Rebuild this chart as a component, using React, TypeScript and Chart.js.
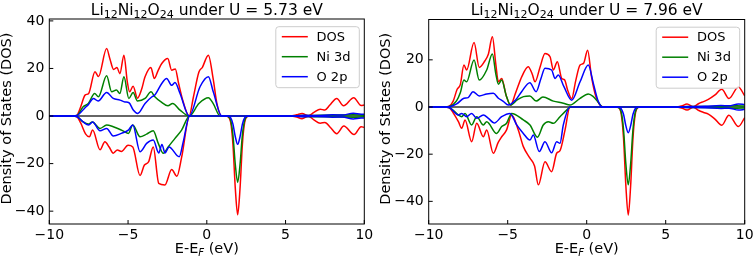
import React, { useEffect, useRef } from 'react';
import { Chart, registerables } from 'chart.js';

Chart.register(...registerables);

type Pt = [number, number];

// ---------------- data ----------------
const X_TICKS = [-10, -5, 0, 5, 10];
const Y_TICKS_LEFT = [-40, -20, 0, 20, 40];
const Y_TICKS_RIGHT = [-40, -20, 0, 20];
const LEGEND_LABELS = ['DOS', 'Ni 3d', 'O 2p'];
const SERIES_COLORS = ['#ff0000', '#008000', '#0000ff'];
const FORMULA: [string, string][] = [['Li', '12'], ['Ni', '12'], ['O', '24']];
const U_VALUES = ['5.73', '7.96'];
const X_LABEL_PARTS = ['E-E', 'F', ' (eV)'];
const Y_LABEL = 'Density of States (DOS)';

// Left panel: U = 5.73 eV
const L_DOS_UP: Pt[] = [[-10, 0], [-8.5, 0], [-8.25, 0.3], [-8.0, 4], [-7.73, 8.8], [-7.5, 9.5], [-7.1, 18.6], [-6.88, 16.6], [-6.36, 28.4], [-6.15, 24], [-5.92, 19.6], [-5.7, 20.4], [-5.52, 17.8], [-5.26, 25.6], [-5.05, 14.5], [-4.9, 10.2], [-4.68, 12.5], [-4.4, 7.5], [-4.15, 11], [-3.92, 16.5], [-3.55, 20.4], [-3.33, 15.8], [-3.1, 19], [-2.86, 22.1], [-2.48, 24.2], [-2.23, 19.3], [-2.0, 19.8], [-1.8, 14], [-1.5, 6], [-1.12, 0], [-0.85, 8], [-0.5, 18.5], [-0.28, 20.5], [0.1, 25.6], [0.4, 15.8], [0.65, 5], [0.95, 0], [5.3, 0], [5.7, 0.5], [6.05, 1.1], [6.45, 0.1], [6.8, 1.5], [7.2, 2.9], [7.5, 2.5], [7.8, 4.5], [8.25, 7.4], [8.68, 4.3], [9.33, 7.7], [9.8, 4.4], [10, 4.6]];
const L_NI_UP: Pt[] = [[-10, 0], [-8.5, 0], [-8.25, 0.2], [-7.85, 3.9], [-7.52, 5.3], [-7.12, 9.5], [-6.88, 8.1], [-6.36, 16.9], [-6.04, 10.2], [-5.74, 10.9], [-5.52, 9.5], [-5.26, 16.5], [-4.95, 7.4], [-4.68, 9.9], [-4.4, 6.3], [-3.92, 7.4], [-3.54, 10.2], [-3.3, 8.1], [-2.86, 5.7], [-2.47, 4.3], [-2.17, 5.3], [-1.7, 2.5], [-1.12, 0], [-0.5, 5.3], [0.1, 7.7], [0.4, 5.3], [0.85, 0], [5.3, 0], [6.0, 0.2], [7.2, 0.3], [8.3, 0.4], [9.3, 0.5], [10, 0.3]];
const L_O_UP: Pt[] = [[-10, 0], [-8.5, 0], [-8.25, 0.2], [-7.73, 3.5], [-7.5, 5], [-7.2, 7.4], [-6.9, 6.3], [-6.36, 9.9], [-5.94, 7.4], [-5.51, 6.7], [-5.2, 5.9], [-4.94, 5.6], [-4.67, 2.5], [-4.39, 1.1], [-3.92, 5.3], [-3.5, 8], [-3.3, 8.8], [-2.86, 13.7], [-2.55, 15.8], [-2.23, 12.9], [-2.02, 14.1], [-1.7, 9.5], [-1.12, 0], [-0.43, 12.3], [0.1, 16.5], [0.41, 10.2], [0.95, 0], [5.5, 0], [6.2, 0.3], [7.0, 0.2], [8.0, 0.5], [8.6, 0.4], [9.3, 1.2], [9.8, 0.8], [10, 0.8]];
const L_DOS_DN: Pt[] = [[-10, 0], [-8.5, 0], [-8.25, -0.3], [-8.0, -3], [-7.7, -7.5], [-7.46, -8.7], [-7.25, -5.9], [-6.78, -14.2], [-6.47, -10.8], [-6.2, -13], [-5.94, -15.6], [-5.68, -14.3], [-5.42, -14.9], [-5.0, -12.3], [-4.7, -13], [-4.24, -25], [-3.96, -20.6], [-3.7, -19.3], [-3.4, -13], [-3.05, -28.3], [-2.66, -29], [-2.23, -22.5], [-1.9, -25.3], [-1.6, -17.4], [-1.09, 0], [1.25, 0], [1.31, -0.12], [1.51, -2.5], [1.66, -11.9], [1.81, -30.4], [1.96, -41.5], [2.11, -30.4], [2.26, -11.9], [2.41, -2.5], [2.61, -0.12], [2.7, 0], [5.3, 0], [5.7, -0.4], [6.05, -1.1], [6.45, -0.1], [6.8, -1.6], [7.2, -3], [7.5, -2.7], [7.85, -4.8], [8.25, -7.4], [8.7, -4.2], [9.35, -7.8], [9.8, -4.5], [10, -4.8]];
const L_NI_DN: Pt[] = [[-10, 0], [-8.5, 0], [-8.25, -0.2], [-7.85, -2.5], [-7.52, -3.4], [-7.27, -2.5], [-6.78, -5.2], [-6.36, -3.8], [-5.94, -4.5], [-5.42, -5.9], [-4.98, -7.3], [-4.7, -3.8], [-4.24, -8.7], [-3.82, -7.6], [-3.4, -6.2], [-3.08, -11.5], [-2.76, -15.7], [-2.44, -12.9], [-2.02, -9.4], [-1.6, -5.9], [-1.09, 0], [1.25, 0], [1.31, -0.08], [1.51, -1.7], [1.66, -8.0], [1.81, -20.4], [1.96, -27.9], [2.11, -20.4], [2.26, -8.0], [2.41, -1.7], [2.61, -0.08], [2.7, 0], [5.5, 0], [6.2, -0.2], [7.2, -0.3], [8.3, -0.4], [9.3, -0.5], [10, -0.3]];
const L_O_DN: Pt[] = [[-10, 0], [-8.5, 0], [-8.25, -0.2], [-7.85, -2.5], [-7.5, -3.8], [-7.25, -2.5], [-6.78, -6.2], [-6.36, -5.2], [-5.94, -8.4], [-5.42, -7.3], [-4.98, -5.9], [-4.7, -3.8], [-4.24, -15], [-3.82, -11.5], [-3.4, -10.1], [-3.05, -15.5], [-2.85, -12], [-2.65, -15.5], [-2.4, -13], [-1.75, -17.1], [-1.5, -11], [-1.09, 0], [1.3, 0], [1.36, -0.05], [1.51, -0.7], [1.66, -3.4], [1.81, -8.7], [1.96, -11.9], [2.11, -8.7], [2.26, -3.4], [2.41, -0.7], [2.61, -0.05], [2.7, 0], [5.5, 0], [6.2, -0.3], [7.0, -0.2], [8.0, -0.5], [8.6, -0.4], [9.3, -1.2], [9.8, -0.8], [10, -0.8]];

// Right panel: U = 7.96 eV
const R_DOS_UP: Pt[] = [[-10, 0], [-9.0, 0], [-8.7, 0.3], [-8.45, 2.5], [-8.2, 7.5], [-8.0, 9.5], [-7.77, 17.8], [-7.6, 15.7], [-7.13, 27.3], [-6.8, 16.8], [-6.45, 19.5], [-6.22, 22.5], [-5.97, 29.8], [-5.75, 18], [-5.59, 10.7], [-5.38, 12.1], [-5.1, 5], [-4.82, 0.8], [-4.5, 6], [-4.1, 13], [-3.7, 17.1], [-3.45, 14], [-3.27, 10.7], [-2.95, 17], [-2.64, 22.7], [-2.32, 21.3], [-2.11, 15.7], [-1.86, 19.2], [-1.58, 12.1], [-1.4, 11.5], [-1.2, 7], [-0.95, 3.5], [-0.7, 11], [-0.42, 17.8], [-0.2, 18.5], [0.06, 24.1], [0.3, 13], [0.6, 4], [1.05, 0], [5.6, 0], [6.0, 0.4], [6.35, 1.3], [6.75, 0.1], [7.1, 1.5], [7.4, 2.3], [7.7, 3.2], [8.1, 5], [8.55, 7.5], [9.0, 3.6], [9.6, 8.5], [10, 4.7]];
const R_NI_UP: Pt[] = [[-10, 0], [-9.0, 0], [-8.7, 0.2], [-8.23, 2.7], [-8.0, 6], [-7.77, 11.4], [-7.6, 10.7], [-7.13, 19.9], [-6.8, 11.4], [-6.33, 15.7], [-5.97, 22.5], [-5.75, 14], [-5.59, 9.7], [-5.38, 11.4], [-5.1, 5], [-4.82, 0.8], [-4.4, 3], [-4.0, 4.4], [-3.6, 4.7], [-3.2, 2.5], [-2.77, 4.2], [-2.11, 2.5], [-1.48, 1.6], [-1.06, 0.8], [-0.42, 3.7], [0.1, 5.5], [0.4, 4.5], [0.73, 2], [1.0, 0], [5.6, 0], [6.5, 0.2], [7.5, 0.2], [8.5, 0.3], [9.5, 0.5], [10, 0.4]];
const R_O_UP: Pt[] = [[-10, 0], [-9.0, 0], [-8.7, 0.1], [-8.23, 1.3], [-7.77, 3.7], [-7.5, 4], [-7.2, 6.5], [-6.8, 4.7], [-6.33, 5.5], [-5.91, 5.8], [-5.59, 3.7], [-5.3, 2.5], [-4.96, 0.8], [-4.5, 3], [-4.12, 6.5], [-3.6, 10.3], [-3.2, 6.5], [-2.9, 12], [-2.64, 16.4], [-2.22, 15.7], [-2.0, 12.1], [-1.8, 13.6], [-1.44, 8.6], [-0.95, 2.9], [-0.42, 10.7], [0.1, 17.8], [0.42, 10], [0.7, 3], [1.0, 0], [5.6, 0], [6.5, 0.2], [7.5, 0.3], [8.5, 0.6], [9.0, 0.5], [9.6, 1.3], [10, 1.0]];
const R_DOS_DN: Pt[] = [[-10, 0], [-9.0, 0], [-8.7, -0.3], [-8.4, -3], [-8.12, -6.2], [-7.91, -9], [-7.7, -5.5], [-7.28, -14.7], [-6.96, -6.9], [-6.54, -12.6], [-6.33, -9.7], [-5.91, -19.6], [-5.6, -15], [-5.38, -12.6], [-5.07, -9.7], [-4.75, -3.4], [-4.33, -9.7], [-4.01, -16.8], [-3.59, -21.7], [-3.3, -25], [-3.06, -33], [-2.64, -23.2], [-2.22, -27.4], [-1.9, -19.6], [-1.69, -18.5], [-1.37, -9.7], [-1.06, 0], [1.9, 0], [1.98, -0.13], [2.18, -2.8], [2.33, -13.1], [2.48, -33.5], [2.63, -45.8], [2.78, -33.5], [2.93, -13.1], [3.08, -2.8], [3.28, -0.13], [3.4, 0], [5.6, 0], [6.0, -0.4], [6.35, -1.3], [6.75, -0.1], [7.1, -1.5], [7.4, -2.3], [7.7, -3], [8.1, -5], [8.55, -7.7], [9.0, -3.5], [9.6, -8.3], [10, -4.5]];
const R_NI_DN: Pt[] = [[-10, 0], [-9.0, 0], [-8.7, -0.2], [-8.12, -3.4], [-7.91, -4.1], [-7.7, -2.7], [-7.28, -7.6], [-6.96, -4.1], [-6.54, -7.6], [-6.33, -6.2], [-5.7, -11.2], [-5.38, -8.3], [-5.07, -6.9], [-4.75, -2.7], [-4.01, -5.5], [-3.59, -7.6], [-3.12, -12.8], [-2.75, -7.6], [-2.43, -6.2], [-2.11, -6.9], [-1.69, -4.1], [-1.27, -1.3], [-1.0, 0], [1.9, 0], [1.98, -0.1], [2.18, -2.0], [2.33, -9.5], [2.48, -24.2], [2.63, -33], [2.78, -24.2], [2.93, -9.5], [3.08, -2.0], [3.28, -0.1], [3.4, 0], [5.6, 0], [6.5, -0.2], [7.5, -0.2], [8.5, -0.3], [9.5, -0.5], [10, -0.4]];
const R_O_DN: Pt[] = [[-10, 0], [-9.0, 0], [-8.7, -0.2], [-8.12, -3.4], [-7.91, -2.7], [-7.6, -4.1], [-7.28, -2.7], [-6.96, -4.8], [-6.54, -3.4], [-6.22, -4.8], [-5.85, -6.8], [-5.38, -4.1], [-4.85, -2.7], [-4.43, -7.6], [-4.01, -11.2], [-3.59, -14], [-3.38, -11.9], [-3.0, -18.9], [-2.64, -14.7], [-2.22, -19.4], [-1.9, -14.7], [-1.69, -15.4], [-1.48, -7.6], [-1.06, 0], [1.95, 0], [2.03, -0.05], [2.18, -0.66], [2.33, -3.1], [2.48, -8.0], [2.63, -10.9], [2.78, -8.0], [2.93, -3.1], [3.08, -0.66], [3.28, -0.05], [3.4, 0], [5.6, 0], [6.5, -0.2], [7.5, -0.3], [8.5, -0.6], [9.0, -0.5], [9.6, -1.3], [10, -1.0]];

// ---------------- layout ----------------
const W = 377;
const H = 258;
const FONT = "'DejaVu Sans', sans-serif";

interface PanelCfg {
  idx: number;
  canvasLeft: number;
  areaLeft: number;
  areaRight: number;
  areaTop: number;
  areaBottom: number;
  yMin: number;
  yMax: number;
  yTicks: number[];
  u: string;
  up: Pt[][];
  dn: Pt[][];
}

const PANELS: PanelCfg[] = [
  { idx: 0, canvasLeft: 0, areaLeft: 49.3, areaRight: 364.3, areaTop: 19, areaBottom: 224, yMin: -45.4, yMax: 40.8, yTicks: Y_TICKS_LEFT, u: U_VALUES[0], up: [L_DOS_UP, L_NI_UP, L_O_UP], dn: [L_DOS_DN, L_NI_DN, L_O_DN] },
  { idx: 1, canvasLeft: 377, areaLeft: 51.7, areaRight: 367.7, areaTop: 19.5, areaBottom: 224, yMin: -49.6, yMax: 37.1, yTicks: Y_TICKS_RIGHT, u: U_VALUES[1], up: [R_DOS_UP, R_NI_UP, R_O_UP], dn: [R_DOS_DN, R_NI_DN, R_O_DN] },
];

const fmt = (v: number) => (v < 0 ? '\u2212' + Math.abs(v) : String(v));

function makePlugin(p: PanelCfg) {
  return {
    id: 'decor' + p.idx,
    beforeDatasetsDraw(chart: any) {
      const { ctx, chartArea: a, scales } = chart;
      const y0 = scales.y.getPixelForValue(0);
      ctx.save();
      ctx.beginPath();
      ctx.rect(a.left, a.top, a.right - a.left, a.bottom - a.top);
      ctx.clip();
      ctx.strokeStyle = '#333333';
      ctx.lineWidth = 1.4;
      ctx.beginPath();
      ctx.moveTo(scales.x.getPixelForValue(-10), y0);
      ctx.lineTo(scales.x.getPixelForValue(10), y0);
      ctx.stroke();
      ctx.restore();
    },
    afterDraw(chart: any) {
      const { ctx, chartArea: a, scales } = chart;
      ctx.save();
      // frame
      ctx.strokeStyle = '#000';
      ctx.lineWidth = 1;
      ctx.strokeRect(a.left, a.top, a.right - a.left, a.bottom - a.top);
      // inward ticks
      ctx.beginPath();
      for (const v of X_TICKS) {
        const px = scales.x.getPixelForValue(v);
        ctx.moveTo(px, a.bottom);
        ctx.lineTo(px, a.bottom - 4);
      }
      for (const v of p.yTicks) {
        const py = scales.y.getPixelForValue(v);
        ctx.moveTo(a.left, py);
        ctx.lineTo(a.left + 4, py);
      }
      ctx.stroke();

      // legend
      const bw = 83.5;
      const bh = 61;
      const bx = a.right - 5 - bw;
      const by = a.top + 7.7;
      ctx.beginPath();
      (ctx as any).roundRect(bx, by, bw, bh, 3);
      ctx.fillStyle = 'rgba(255,255,255,0.8)';
      ctx.fill();
      ctx.strokeStyle = '#cccccc';
      ctx.lineWidth = 1;
      ctx.stroke();
      ctx.font = `13px ${FONT}`;
      ctx.textBaseline = 'middle';
      ctx.textAlign = 'left';
      LEGEND_LABELS.forEach((lab, i) => {
        const yy = by + 10 + i * 20;
        ctx.strokeStyle = SERIES_COLORS[i];
        ctx.lineWidth = 1.5;
        ctx.beginPath();
        ctx.moveTo(bx + 6, yy);
        ctx.lineTo(bx + 32, yy);
        ctx.stroke();
        ctx.fillStyle = '#000';
        ctx.fillText(lab, bx + 40.7, yy + 0.5);
      });

      // title with subscripts
      const big = 15.5;
      const small = 11;
      const pieces: { t: string; sub: boolean }[] = [];
      FORMULA.forEach(([el, n]) => {
        pieces.push({ t: el, sub: false });
        pieces.push({ t: n, sub: true });
      });
      pieces.push({ t: ` under U = ${p.u} eV`, sub: false });
      let total = 0;
      for (const pc of pieces) {
        ctx.font = `${pc.sub ? small : big}px ${FONT}`;
        total += ctx.measureText(pc.t).width;
      }
      let x = (a.left + a.right) / 2 - total / 2;
      const baseY = 15;
      ctx.fillStyle = '#000';
      ctx.textBaseline = 'alphabetic';
      for (const pc of pieces) {
        ctx.font = `${pc.sub ? small : big}px ${FONT}`;
        ctx.fillText(pc.t, x, baseY + (pc.sub ? 2.5 : 0));
        x += ctx.measureText(pc.t).width;
      }

      // x label
      const lf = 14.5;
      const lfs = 10;
      const xl = [
        { t: X_LABEL_PARTS[0], f: `${lf}px ${FONT}`, dy: 0 },
        { t: X_LABEL_PARTS[1], f: `italic ${lfs}px ${FONT}`, dy: 3 },
        { t: X_LABEL_PARTS[2], f: `${lf}px ${FONT}`, dy: 0 },
      ];
      let xt = 0;
      for (const pc of xl) {
        ctx.font = pc.f;
        xt += ctx.measureText(pc.t).width;
      }
      let xx = (a.left + a.right) / 2 - xt / 2;
      for (const pc of xl) {
        ctx.font = pc.f;
        ctx.fillText(pc.t, xx, 253 + pc.dy);
        xx += ctx.measureText(pc.t).width;
      }

      // y label
      ctx.translate(a.left - 42.5, (a.top + a.bottom) / 2 - 3);
      ctx.rotate(-Math.PI / 2);
      ctx.font = `${lf}px ${FONT}`;
      ctx.textAlign = 'center';
      ctx.textBaseline = 'middle';
      ctx.fillText(Y_LABEL, 0, 0);
      ctx.restore();
    },
  };
}

function Panel({ cfg }: { cfg: PanelCfg }) {
  const ref = useRef<HTMLCanvasElement>(null);
  useEffect(() => {
    const toXY = (pts: Pt[]) => pts.map(([x, y]) => ({ x, y }));
    const datasets: any[] = [];
    [0, 1, 2].forEach((i) => {
      datasets.push({
        label: LEGEND_LABELS[i],
        data: toXY(cfg.up[i]),
        borderColor: SERIES_COLORS[i],
        borderWidth: 1.5,
        pointRadius: 0,
        fill: false,
        cubicInterpolationMode: 'monotone',
        order: 3 - i,
      });
      datasets.push({
        label: LEGEND_LABELS[i] + ' (down)',
        data: toXY(cfg.dn[i]),
        borderColor: SERIES_COLORS[i],
        borderWidth: 1.5,
        pointRadius: 0,
        fill: false,
        cubicInterpolationMode: 'monotone',
        order: 3 - i,
      });
    });
    const chart = new Chart(ref.current as HTMLCanvasElement, {
      type: 'line',
      data: { datasets },
      options: {
        animation: false,
        responsive: false,
        devicePixelRatio: 1,
        events: [],
        layout: { padding: { top: cfg.areaTop, right: W - cfg.areaRight, left: 0, bottom: 0 } },
        plugins: { legend: { display: false }, tooltip: { enabled: false }, title: { display: false } },
        scales: {
          x: {
            type: 'linear',
            min: -10,
            max: 10,
            grid: { display: false, drawTicks: false },
            border: { display: false },
            ticks: {
              font: { family: FONT, size: 14 },
              color: '#000',
              padding: 3,
              maxRotation: 0,
              autoSkip: false,
              callback: (v: any) => fmt(Number(v)),
            },
            afterBuildTicks: (s: any) => {
              s.ticks = X_TICKS.map((value) => ({ value }));
            },
            afterFit: (s: any) => {
              s.height = H - cfg.areaBottom;
              s.paddingLeft = 0;
              s.paddingRight = 0;
            },
          },
          y: {
            type: 'linear',
            min: cfg.yMin,
            max: cfg.yMax,
            grid: { display: false, drawTicks: false },
            border: { display: false },
            ticks: {
              font: { family: FONT, size: 14 },
              color: '#000',
              padding: 5,
              callback: (v: any) => fmt(Number(v)),
            },
            afterBuildTicks: (s: any) => {
              s.ticks = cfg.yTicks.map((value) => ({ value }));
            },
            afterFit: (s: any) => {
              s.width = cfg.areaLeft;
              s.paddingTop = 0;
              s.paddingBottom = 0;
            },
          },
        },
      },
      plugins: [makePlugin(cfg)],
    } as any);
    return () => chart.destroy();
  }, [cfg]);
  return (
    <canvas
      ref={ref}
      width={W}
      height={H}
      style={{ position: 'absolute', left: cfg.canvasLeft, top: 0, width: W, height: H }}
    />
  );
}

export default function App() {
  return (
    <div style={{ position: 'absolute', left: 0, top: 0, width: 754, height: 258, background: '#fff', overflow: 'hidden' }}>
      {PANELS.map((p) => (
        <Panel key={p.idx} cfg={p} />
      ))}
    </div>
  );
}
